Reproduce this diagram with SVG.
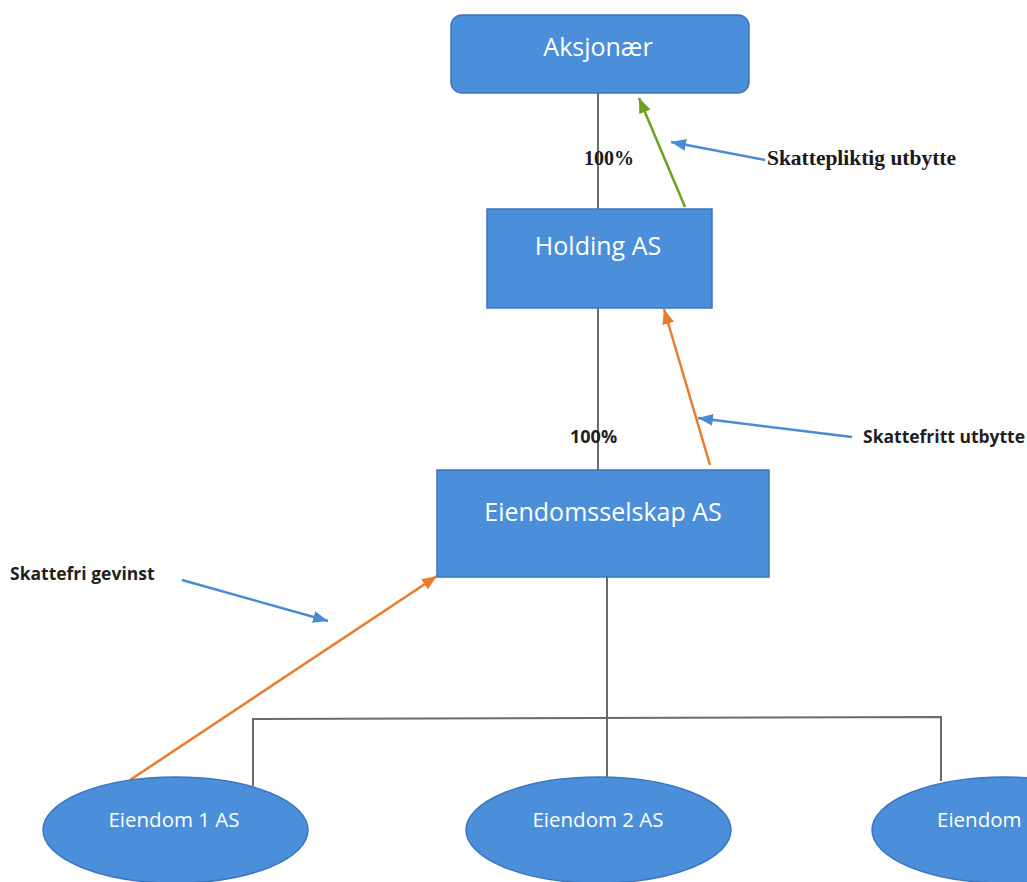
<svg xmlns="http://www.w3.org/2000/svg" width="1027" height="882" viewBox="0 0 1027 882">
  <style>
    .node { fill: #4b8fdb; stroke: #3b76bf; stroke-width: 1.5; }
    .ntext { font-family: "Open Sans", "Noto Sans", sans-serif; fill: #ffffff; text-anchor: middle; }
    .big { font-size: 25px; }
    .small { font-size: 20.5px; }
    .tree { stroke: #6b6b6b; stroke-width: 2; fill: none; }
    .lblserif { font-family: "Liberation Serif", "Times New Roman", serif; font-weight: bold; fill: #1a1a1a; }
    .lblsans { font-family: "Open Sans", "Noto Sans", sans-serif; font-weight: bold; fill: #1f1f1f; }
  </style>
  <defs>
    <marker id="hBlue" markerUnits="userSpaceOnUse" markerWidth="16" markerHeight="12" refX="15" refY="6" orient="auto">
      <path d="M0,0 L15,6 L0,12 z" fill="#4a8ad6"/>
    </marker>
    <marker id="hGreen" markerUnits="userSpaceOnUse" markerWidth="16" markerHeight="12" refX="15" refY="6" orient="auto">
      <path d="M0,0 L15,6 L0,12 z" fill="#6aa121"/>
    </marker>
    <marker id="hOrange" markerUnits="userSpaceOnUse" markerWidth="16" markerHeight="12" refX="15" refY="6" orient="auto">
      <path d="M0,0 L15,6 L0,12 z" fill="#ec7a28"/>
    </marker>
  </defs>
  <rect width="1027" height="882" fill="#ffffff"/>

  <g id="connectors">
    <line class="tree" x1="598" y1="93" x2="598" y2="209"/>
    <line class="tree" x1="598" y1="308" x2="598" y2="470"/>
    <line class="tree" x1="607" y1="577" x2="607" y2="778"/>
    <polyline class="tree" points="253,786 253,719 941,717 941,781"/>
    <line x1="685" y1="207" x2="639" y2="98" stroke="#6aa121" stroke-width="2.5" marker-end="url(#hGreen)"/>
    <line x1="710" y1="465" x2="664" y2="309" stroke="#ec7a28" stroke-width="2.5" marker-end="url(#hOrange)"/>
    <line x1="130" y1="780" x2="437" y2="576" stroke="#ec7a28" stroke-width="2.5" marker-end="url(#hOrange)"/>
    <line x1="765" y1="160" x2="671" y2="142" stroke="#4a8ad6" stroke-width="2.5" marker-end="url(#hBlue)"/>
    <line x1="852" y1="437" x2="698" y2="418" stroke="#4a8ad6" stroke-width="2.5" marker-end="url(#hBlue)"/>
    <line x1="182" y1="580" x2="328" y2="621" stroke="#4a8ad6" stroke-width="2.5" marker-end="url(#hBlue)"/>
  </g>

  <g id="labels">
    <text class="lblserif" x="584" y="165" font-size="20">100%</text>
    <text class="lblserif" x="767" y="165" font-size="20" textLength="189" lengthAdjust="spacingAndGlyphs">Skattepliktig utbytte</text>
    <text class="lblsans" x="570" y="443" font-size="18">100%</text>
    <text class="lblsans" x="863" y="443" font-size="17.5">Skattefritt utbytte</text>
    <text class="lblsans" x="10" y="580" font-size="17.5">Skattefri gevinst</text>
  </g>

  <g id="aksjonaer">
    <rect class="node" x="451" y="15" width="298" height="78" rx="11"/>
    <text class="ntext big" x="598" y="56">Aksjonær</text>
  </g>
  <g id="holding">
    <rect class="node" x="487" y="209" width="225" height="99"/>
    <text class="ntext big" x="598" y="255">Holding AS</text>
  </g>
  <g id="eiendomsselskap">
    <rect class="node" x="437" y="470" width="332" height="107"/>
    <text class="ntext big" x="603" y="521">Eiendomsselskap AS</text>
  </g>
  <g id="eiendom1">
    <ellipse class="node" cx="175.5" cy="830" rx="132.5" ry="53"/>
    <text class="ntext small" x="174" y="827">Eiendom 1 AS</text>
  </g>
  <g id="eiendom2">
    <ellipse class="node" cx="598.5" cy="830" rx="132.5" ry="53"/>
    <text class="ntext small" x="598" y="827">Eiendom 2 AS</text>
  </g>
  <g id="eiendom3">
    <ellipse class="node" cx="1005" cy="830" rx="133" ry="53"/>
    <text class="ntext small" x="937" y="827" text-anchor="start" style="text-anchor:start">Eiendom</text>
  </g>
</svg>
